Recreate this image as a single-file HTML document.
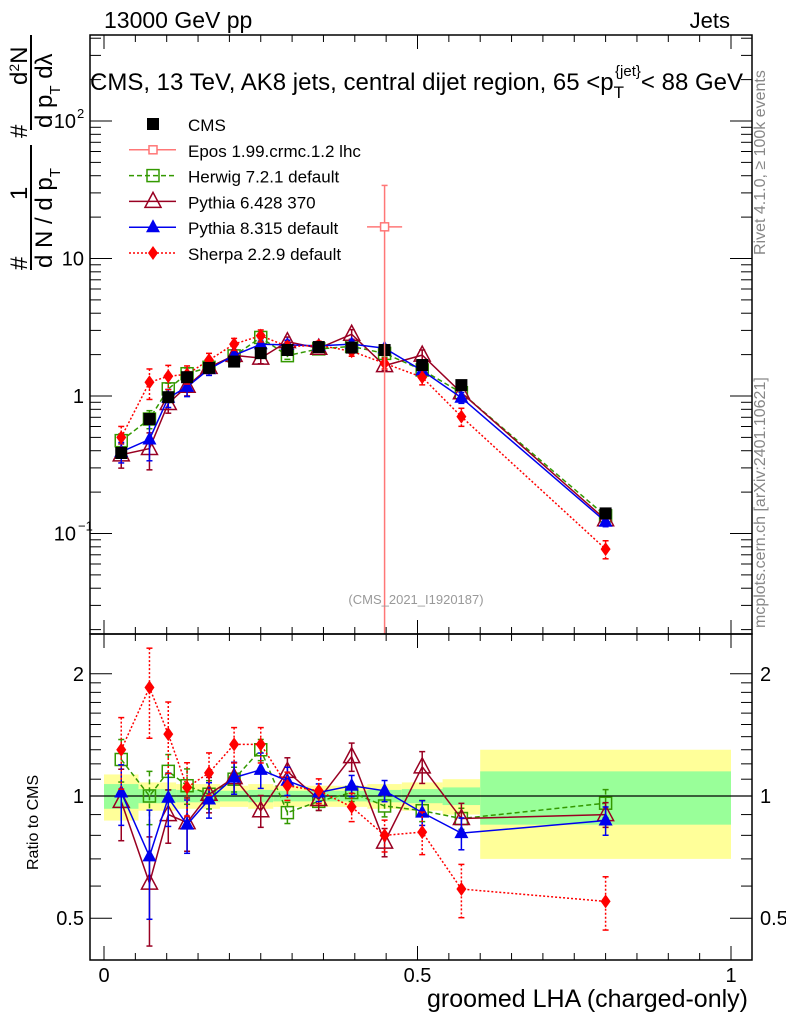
<!DOCTYPE html>
<html><head><meta charset="utf-8"><style>
body{margin:0;background:#fff;width:786px;height:1024px;overflow:hidden}
svg text{font-family:"Liberation Sans",sans-serif}
</style></head><body>
<svg id="c" width="786" height="1024" xmlns="http://www.w3.org/2000/svg">
<g id="bands"></g>
<g id="ratio"></g>
<g id="main"></g>
<g id="axes"></g>
<text x="104" y="28" font-size="23">13000 GeV pp</text>
<text x="730" y="28" font-size="22" text-anchor="end">Jets</text>
<text x="90" y="90" font-size="24">CMS, 13 TeV, AK8 jets, central dijet region, 65 &lt;p<tspan font-size="17" dy="8">T</tspan><tspan font-size="15" dy="-22" dx="-9">{jet}</tspan><tspan dy="14">&lt; 88 GeV</tspan></text>
<text x="416" y="604" font-size="13" fill="#999" text-anchor="middle">(CMS_2021_I1920187)</text>
<text transform="translate(765,255) rotate(-90)" font-size="16" fill="#888">Rivet 4.1.0, ≥ 100k events</text>
<text transform="translate(765,628) rotate(-90)" font-size="16" fill="#888">mcplots.cern.ch [arXiv:2401.10621]</text>
<g font-size="24">
<text transform="translate(27,270) rotate(-90)">#</text>
<text transform="translate(27,200) rotate(-90)">1</text>
<line x1="31" y1="270" x2="31" y2="145" stroke="#000" stroke-width="2"/>
<text transform="translate(52,268) rotate(-90)">d N / d p<tspan font-size="15" dy="8">T</tspan></text>
<text transform="translate(27,138) rotate(-90)">#</text>
<line x1="31" y1="130" x2="31" y2="35" stroke="#000" stroke-width="2"/>
<text transform="translate(52,128) rotate(-90)">d p<tspan font-size="15" dy="8">T</tspan><tspan dy="-8"> dλ</tspan></text>
<text transform="translate(27,85) rotate(-90)">d<tspan font-size="14" dy="-8">2</tspan><tspan dy="8">N</tspan></text>
</g>
<text transform="translate(38,870) rotate(-90)" font-size="16">Ratio to CMS</text>
<text x="748" y="1007" font-size="25" text-anchor="end">groomed LHA (charged-only)</text>
<g id="legend"></g>
</svg>
<script>
const edges=[0,0.055,0.09,0.115,0.15,0.185,0.23,0.27,0.315,0.37,0.42,0.475,0.54,0.6,1.0];
const cms=[0.385,0.68,0.98,1.37,1.6,1.78,2.05,2.16,2.27,2.25,2.16,1.68,1.2,0.14];
const cmsErr=[0.06,0.05,0.05,0.05,0.04,0.04,0.04,0.04,0.04,0.04,0.04,0.04,0.04,0.04];
const rHerwig=[1.23,1.0,1.15,1.06,1.01,1.10,1.30,0.91,0.97,1.02,0.945,0.92,0.88,0.96];
const rPy6=[0.97,0.61,0.90,0.86,1.01,1.11,0.92,1.15,0.98,1.25,0.77,1.18,0.88,0.90];
const rPy8=[1.02,0.71,0.99,0.85,0.98,1.11,1.16,1.09,1.02,1.06,1.03,0.91,0.81,0.87];
const rSherpa=[1.30,1.85,1.42,1.05,1.14,1.34,1.34,1.06,1.03,0.94,0.80,0.815,0.59,0.55];
const errHerwig=[0.12,0.15,0.1,0.1,0.08,0.07,0.06,0.06,0.05,0.05,0.06,0.06,0.06,0.08];
const errPy6=[0.2,0.3,0.15,0.15,0.1,0.09,0.09,0.08,0.06,0.08,0.08,0.09,0.09,0.07];
const errPy8=[0.17,0.3,0.15,0.15,0.1,0.09,0.1,0.08,0.05,0.06,0.06,0.07,0.09,0.08];
const errSherpa=[0.2,0.25,0.2,0.15,0.12,0.1,0.1,0.08,0.07,0.08,0.09,0.12,0.15,0.15];
const bandOuter=[0.13,0.08,0.08,0.07,0.07,0.06,0.07,0.06,0.06,0.06,0.07,0.08,0.10,0.30];
const bandInner=[0.07,0.04,0.04,0.035,0.035,0.03,0.035,0.03,0.03,0.03,0.035,0.04,0.05,0.15];
const eposX=0.4475, eposY=17, eposErrUp=34, eposDx=0.028;
const NS="http://www.w3.org/2000/svg";
const X=v=>104+v*627;
const Ym=v=>396-Math.log10(v)*137.5;
const Yr=v=>796-Math.log10(v)*406;
const TOP=35,MB=634,RB=960,L=90,R=752;
function el(p,t,a){const e=document.createElementNS(NS,t);for(const k in a)e.setAttribute(k,a[k]);p.appendChild(e);return e;}
const main=document.getElementById('main'),ratio=document.getElementById('ratio'),bands=document.getElementById('bands'),axes=document.getElementById('axes'),leg=document.getElementById('legend');
const xs=edges.slice(0,-1).map((e,i)=>(e+edges[i+1])/2);
const defs=el(document.getElementById('c'),'defs',{});
const cp1=el(defs,'clipPath',{id:'cm'});el(cp1,'rect',{x:L,y:TOP,width:R-L,height:MB-TOP});
const cp2=el(defs,'clipPath',{id:'cr'});el(cp2,'rect',{x:L,y:MB,width:R-L,height:RB-MB});
main.setAttribute('clip-path','url(#cm)');ratio.setAttribute('clip-path','url(#cr)');
edges.slice(0,-1).forEach((e,i)=>{
 const b1=el(bands,'rect',{x:X(e),y:Yr(1+bandOuter[i]),width:X(edges[i+1])-X(e),height:Yr(1-bandOuter[i])-Yr(1+bandOuter[i]),fill:'#ffff99'});
 
 const b2=el(bands,'rect',{x:X(e),y:Yr(1+bandInner[i]),width:X(edges[i+1])-X(e),height:Yr(1-bandInner[i])-Yr(1+bandInner[i]),fill:'#99ff99'});
 
});
el(ratio,'line',{x1:L,x2:R,y1:Yr(1),y2:Yr(1),stroke:'#000','stroke-width':1.2});
function marker(g,type,x,y,c,s){
 if(type==='sq')return el(g,'rect',{x:x-6,y:y-6,width:12,height:12,fill:'#000'});
 if(type==='osq')return el(g,'rect',{x:x-6,y:y-6,width:12,height:12,fill:'#fff','fill-opacity':0,stroke:c,'stroke-width':1.5});
 if(type==='otri')return el(g,'path',{d:`M${x},${y-9}L${x+8},${y+6}L${x-8},${y+6}Z`,fill:'none',stroke:c,'stroke-width':1.5});
 if(type==='tri')return el(g,'path',{d:`M${x},${y-8}L${x+7},${y+5}L${x-7},${y+5}Z`,fill:c});
 if(type==='dia')return el(g,'path',{d:`M${x},${y-7}L${x+5},${y}L${x},${y+7}L${x-5},${y}Z`,fill:c});
 if(type==='cross')return el(g,'rect',{x:x-4,y:y-4,width:8,height:8,fill:'#fff',stroke:c,'stroke-width':1.5});
}
const series=[
 {n:'herwig',r:rHerwig,e:errHerwig,c:'#339900',dash:'5,3',m:'osq'},
 {n:'pythia6',r:rPy6,e:errPy6,c:'#990022',dash:'',m:'otri'},
 {n:'pythia8',r:rPy8,e:errPy8,c:'#0000ee',dash:'',m:'tri'},
 {n:'sherpa',r:rSherpa,e:errSherpa,c:'#ff0000',dash:'2,2',m:'dia'}];
series.forEach(s=>{
 [[main,(i)=>s.r[i]*cms[i],Ym],[ratio,(i)=>s.r[i],Yr]].forEach(([g,val,Y])=>{
  const sg=el(g,'g',{});
  
  
  el(sg,'polyline',{points:xs.map((x,i)=>X(x)+','+Y(val(i))).join(' '),fill:'none',stroke:s.c,'stroke-width':1.5,'stroke-dasharray':s.dash});
  xs.forEach((x,i)=>{const v=val(i);
   el(sg,'line',{x1:X(x),x2:X(x),y1:Y(v*(1+s.e[i])),y2:Y(v*(1-s.e[i])),stroke:s.c,'stroke-width':1.5,'stroke-dasharray':s.dash});
   el(sg,'line',{x1:X(x)-3,x2:X(x)+3,y1:Y(v*(1+s.e[i])),y2:Y(v*(1+s.e[i])),stroke:s.c,'stroke-width':1.5});
   el(sg,'line',{x1:X(x)-3,x2:X(x)+3,y1:Y(v*(1-s.e[i])),y2:Y(v*(1-s.e[i])),stroke:s.c,'stroke-width':1.5});
   const m=marker(sg,s.m,X(x),Y(v),s.c);
   
   
  });
 });
});
const cg=el(main,'g',{});


xs.forEach((x,i)=>{
 el(cg,'line',{x1:X(x),x2:X(x),y1:Ym(cms[i]*(1+cmsErr[i])),y2:Ym(cms[i]*(1-cmsErr[i])),stroke:'#000','stroke-width':1.5});
 const m=marker(cg,'sq',X(x),Ym(cms[i]));
 
 
});
const eg=el(main,'g',{});


el(eg,'line',{x1:X(eposX),x2:X(eposX),y1:Ym(eposErrUp),y2:MB,stroke:'#ff7777','stroke-width':1.5});
el(eg,'line',{x1:X(eposX-eposDx),x2:X(eposX+eposDx),y1:Ym(eposY),y2:Ym(eposY),stroke:'#ff7777','stroke-width':1.5});
el(eg,'line',{x1:X(eposX)-3,x2:X(eposX)+3,y1:Ym(eposErrUp),y2:Ym(eposErrUp),stroke:'#ff7777','stroke-width':1.5});
marker(eg,'cross',X(eposX),Ym(eposY),'#ff7777');
el(axes,'rect',{x:L,y:TOP,width:R-L,height:MB-TOP,fill:'none',stroke:'#000','stroke-width':1.5});
el(axes,'rect',{x:L,y:MB,width:R-L,height:RB-MB,fill:'none',stroke:'#000','stroke-width':1.5});
for(let k=0;k<=20;k++){const v=k*0.05,len=k%10===0?14:7,x=X(v);
 [[MB,-1],[RB,-1],[TOP,1],[MB,1]].forEach(([y0,d])=>el(axes,'line',{x1:x,x2:x,y1:y0,y2:y0+d*len,stroke:'#000','stroke-width':1}));}
[['0',0],['0.5',0.5],['1',1]].forEach(([t,v])=>{const e=el(axes,'text',{x:X(v),y:982,'font-size':20,'text-anchor':'middle'});e.textContent=t;});
for(let d=-2;d<=2;d++)for(let m=1;m<=9;m++){const v=m*Math.pow(10,d),y=Ym(v);if(y<TOP||y>MB)continue;const len=m===1?22:11;
 el(axes,'line',{x1:L,x2:L+len,y1:y,y2:y,stroke:'#000'});el(axes,'line',{x1:R,x2:R-len,y1:y,y2:y,stroke:'#000'});}
[['10',-1,'−1'],['1',0,''],['10',1,''],['10',2,'2']].forEach(([b,p,s])=>{const e=el(axes,'text',{x:s?76:84,y:Ym(Math.pow(10,p))+7,'font-size':20,'text-anchor':'end'});e.textContent=b;
 if(s){const t=el(axes,'text',{x:s==='2'?77:78,y:Ym(Math.pow(10,p))-3,'font-size':13});t.textContent=s;}});
[0.5,0.6,0.7,0.8,0.9,1,1.1,1.2,1.3,1.4,1.5,1.6,1.7,1.8,1.9,2].forEach(v=>{const y=Yr(v);const len=(v===0.5||v===1||v===2)?22:11;
 el(axes,'line',{x1:L,x2:L+len,y1:y,y2:y,stroke:'#000'});el(axes,'line',{x1:R,x2:R-len,y1:y,y2:y,stroke:'#000'});});
[['0.5',0.5],['1',1],['2',2]].forEach(([t,v])=>{let e=el(axes,'text',{x:84,y:Yr(v)+7,'font-size':20,'text-anchor':'end'});e.textContent=t;
 e=el(axes,'text',{x:760,y:Yr(v)+7,'font-size':20});e.textContent=t;});
const legItems=[['CMS','#000','','sq'],['Epos 1.99.crmc.1.2 lhc','#ff7777','','cross'],['Herwig 7.2.1 default','#339900','5,3','osq'],['Pythia 6.428 370','#990022','','otri'],['Pythia 8.315 default','#0000ee','','tri'],['Sherpa 2.2.9 default','#ff0000','2,2','dia']];
legItems.forEach((it,i)=>{const y=124+i*25.8;const g=el(leg,'g',{});
 
 
 if(i>0)el(g,'line',{x1:129,x2:176,y1:y,y2:y,stroke:it[1],'stroke-width':1.5,'stroke-dasharray':it[2]});
 marker(g,it[3],153,y,it[1]);
 const t=el(g,'text',{x:188,y:y+7,'font-size':17});t.textContent=it[0];});
</script>
</body></html>
